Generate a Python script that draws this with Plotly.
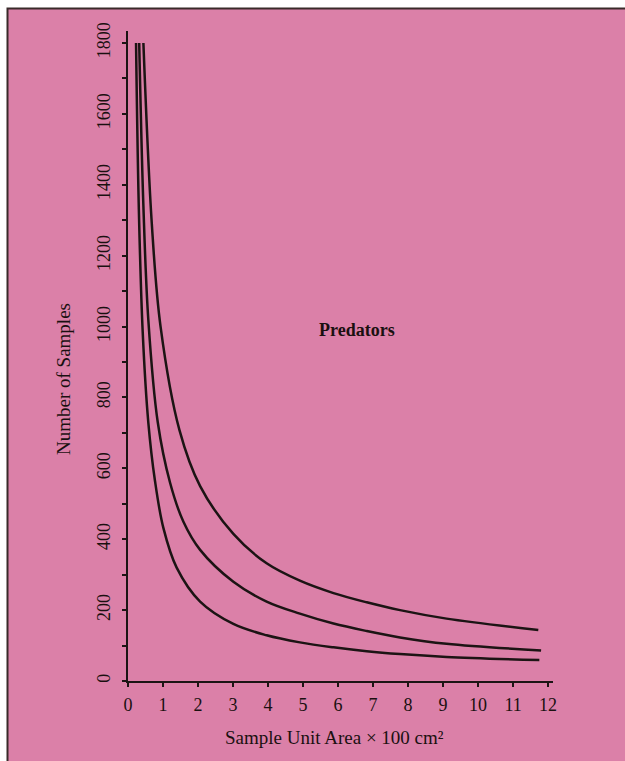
import plotly.graph_objects as go

# Data (Sample Unit Area x 100 cm^2 vs Number of Samples)
x_low = [0.23, 0.31, 0.42, 0.58, 0.77, 1.01, 1.39, 2.06, 3.01, 3.96, 4.91, 5.87, 6.82, 7.77, 9.1, 11.75]
y_low = [1800, 1330, 985, 730, 565, 432, 320, 224, 161, 129, 109, 95, 84, 76, 68, 59]

x_mid = [0.32, 0.44, 0.58, 0.85, 1.2, 1.58, 2.06, 3.01, 3.96, 4.91, 5.87, 6.82, 7.77, 9.1, 11.8]
y_mid = [1800, 1340, 1020, 730, 560, 450, 370, 280, 224, 190, 162, 141, 123, 105, 86]

x_high = [0.44, 0.68, 0.93, 1.47, 2.06, 3.01, 3.96, 4.91, 5.87, 6.82, 7.77, 9.1, 11.72]
y_high = [1800, 1290, 1000, 708, 550, 415, 332, 283, 248, 222, 200, 176, 144]

x_ticks = list(range(0, 13))
y_ticks = list(range(0, 1801, 200))

LINE = "#1c1414"
SERIF = "Liberation Serif"

fig = go.Figure()
for xs, ys in [(x_low, y_low), (x_mid, y_mid), (x_high, y_high)]:
    fig.add_trace(go.Scatter(x=xs, y=ys, mode="lines",
                             line=dict(color=LINE, width=2.5, shape="spline", smoothing=1.0),
                             showlegend=False, hoverinfo="skip"))

W, H = 625, 761
L, R, T, B = 128, 72, 31, 80
pw, ph = W - L - R, H - T - B


def px_x(px):
    return (px - L) / pw


def px_y(py):
    return (H - B - py) / ph


fig.add_shape(type="rect", xref="paper", yref="paper",
              x0=px_x(7.5), x1=px_x(640), y0=px_y(775), y1=px_y(8.5),
              fillcolor="#db80a8", line=dict(color="#3a2a2a", width=2), layer="below")

fig.add_annotation(text="<b>Predators</b>", x=px_x(357), y=px_y(330), xref="paper", yref="paper",
                   showarrow=False, xanchor="center", yanchor="middle",
                   font=dict(family=SERIF, size=18, color="#1a1010"))
fig.add_annotation(text="Sample Unit Area × 100 cm²", x=px_x(334), y=px_y(737), xref="paper", yref="paper",
                   showarrow=False, xanchor="center", yanchor="middle",
                   font=dict(family=SERIF, size=19, color="#1a1010"))
fig.add_annotation(text="Number of Samples", x=px_x(63), y=px_y(379), xref="paper", yref="paper",
                   showarrow=False, xanchor="center", yanchor="middle", textangle=-90,
                   font=dict(family=SERIF, size=19, color="#1a1010"))

fig.update_xaxes(range=[0, 12.14], tickvals=x_ticks, ticktext=[str(v) for v in x_ticks],
                 showgrid=False, zeroline=False, showline=True, linecolor=LINE, linewidth=2,
                 ticks="outside", ticklen=4, tickwidth=2, tickcolor=LINE,
                 ticklabelstandoff=2,
                 tickfont=dict(family=SERIF, size=18, color="#1a1010"))
fig.update_yaxes(range=[0, 1834], tickvals=y_ticks, ticktext=[str(v) for v in y_ticks],
                 showgrid=False, zeroline=False, showline=True, linecolor=LINE, linewidth=2,
                 ticks="outside", ticklen=4, tickwidth=2, tickcolor=LINE,
                 minor=dict(dtick=100, ticks="outside", ticklen=4, tickwidth=2, tickcolor=LINE, showgrid=False),
                 tickangle=-90, ticklabelstandoff=5,
                 tickfont=dict(family=SERIF, size=18, color="#1a1010"))

fig.update_layout(width=W, height=H, margin=dict(l=L, r=R, t=T, b=B),
                  paper_bgcolor="white", plot_bgcolor="rgba(0,0,0,0)")

fig.write_html("out.html", config={"displayModeBar": False},
               post_script="document.body.style.margin='0';document.body.style.overflow='hidden';")
